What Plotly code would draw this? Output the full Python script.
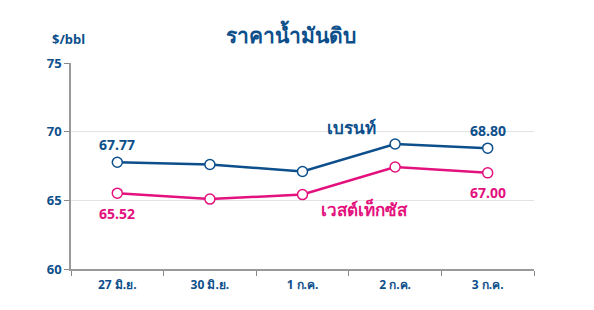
import plotly.graph_objects as go

categories = ["27 มิ.ย.", "30 มิ.ย.", "1 ก.ค.", "2 ก.ค.", "3 ก.ค."]
brent = [67.77, 67.61, 67.10, 69.10, 68.80]
wti = [65.52, 65.09, 65.42, 67.43, 67.00]
y_ticks = [60, 65, 70, 75]

BLUE = "#0d4f8b"
PINK = "#e3117d"
FONT = "Noto Sans, Tahoma, sans-serif"

fig = go.Figure()
fig.add_trace(go.Scatter(
    x=categories, y=brent, mode="lines+markers", name="เบรนท์",
    line=dict(color=BLUE, width=2.5),
    marker=dict(symbol="circle", size=10, color="white", line=dict(color=BLUE, width=1.5)),
))
fig.add_trace(go.Scatter(
    x=categories, y=wti, mode="lines+markers", name="เวสต์เท็กซัส",
    line=dict(color=PINK, width=2.5),
    marker=dict(symbol="circle", size=10, color="white", line=dict(color=PINK, width=1.5)),
))

lab = dict(font=dict(family=FONT, size=14, color=BLUE), showarrow=False)
fig.add_annotation(x=categories[0], y=brent[0], text="<b>%.2f</b>" % brent[0], yshift=18, **lab)
fig.add_annotation(x=categories[4], y=brent[4], text="<b>%.2f</b>" % brent[4], yshift=18, **lab)
labp = dict(font=dict(family=FONT, size=14, color=PINK), showarrow=False)
fig.add_annotation(x=categories[0], y=wti[0], text="<b>%.2f</b>" % wti[0], yshift=-20, **labp)
fig.add_annotation(x=categories[4], y=wti[4], text="<b>%.2f</b>" % wti[4], yshift=-20, **labp)
fig.add_annotation(x=2.53, y=70.3, text="<b>เบรนท์</b>", font=dict(family=FONT, size=17, color=BLUE), showarrow=False)
fig.add_annotation(x=2.67, y=64.3, text="<b>เวสต์เท็กซัส</b>", font=dict(family=FONT, size=17, color=PINK), showarrow=False)

fig.update_layout(
    width=594, height=310,
    margin=dict(l=71, r=60, t=63, b=41),
    paper_bgcolor="white", plot_bgcolor="white",
    showlegend=False,
    title=dict(text="<b>ราคาน้ำมันดิบ</b>", x=0.49, xanchor="center", y=0.885, yanchor="middle",
               font=dict(family=FONT, size=21, color=BLUE)),
    font=dict(family=FONT),
)
fig.add_annotation(xref="paper", yref="paper", x=-0.045, y=1.063, xanchor="left", yanchor="bottom",
                   text="<b>$/bbl</b>", font=dict(family=FONT, size=13, color=BLUE), showarrow=False)
fig.update_xaxes(
    type="category", tickson="boundaries", ticks="outside", ticklen=5, tickcolor="#888",
    showline=True, linecolor="#999", linewidth=1.5, showgrid=False,
    tickfont=dict(family=FONT, size=12, color=BLUE, weight="bold"), ticklabelstandoff=4,
    range=[-0.5, 4.5],
)
fig.update_yaxes(
    range=[60, 75], tickvals=y_ticks, ticks="outside", ticklen=5, tickcolor="#888",
    showline=True, linecolor="#999", linewidth=1.5,
    showgrid=True, gridcolor="#e3e3e3", gridwidth=1, zeroline=False,
    tickfont=dict(family=FONT, size=13, color=BLUE, weight="bold"),
)
fig.write_html("out.html")
